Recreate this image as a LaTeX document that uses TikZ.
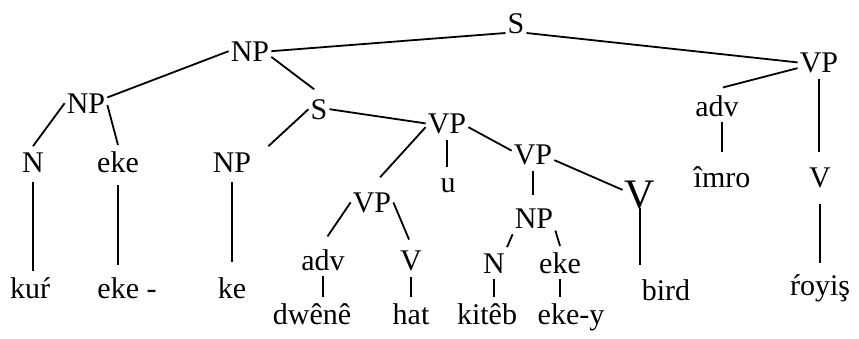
\documentclass[tikz,border=0pt]{standalone}
\usepackage{fontspec}
\setmainfont{Liberation Serif}
\tikzset{
  lbl/.style={anchor=base,inner xsep=2pt,inner ysep=6pt},
  branch/.style={line width=1.8pt}
}

\begin{document}
\begin{tikzpicture}[x=1pt,y=-1pt,font=\fontsize{30}{36}\selectfont]
  \useasboundingbox (0,0) rectangle (859,338);
  % categories
  \node[lbl] (s0) at (516,33) {S};
  \node[lbl] (np0) at (250,61) {NP};
  \node[lbl] (vp0) at (819,72) {VP};
  \node[lbl] (np1) at (86,113) {NP};
  \node[lbl] (s1) at (319,119) {S};
  \node[lbl] (adv0) at (717,116) {adv};
  \node[lbl] (vp1) at (447,133) {VP};
  \node[lbl] (vp2) at (533,164) {VP};
  \node[lbl] (n0) at (33,172) {N};
  \node[lbl] (eke0) at (118,172) {eke};
  \node[lbl] (np2) at (232,172) {NP};
  \node[lbl] (u) at (448,192) {u};
  \node[lbl] (imro) at (722,187) {îmro};
  \node[lbl] (v0) at (820,187) {V};
  \node[lbl] (vp3) at (372,212) {VP};
  \node[lbl,font=\fontsize{42}{50}\selectfont] (vbig) at (640,208) {V};
  \node[lbl] (np3) at (534,228) {NP};
  \node[lbl] (n1) at (494,273) {N};
  \node[lbl] (eke1) at (560,273) {eke};
  \node[lbl] (adv1) at (323,270) {adv};
  \node[lbl] (v1) at (411,270) {V};
  % words
  \node[lbl] (kur) at (30,298) {kuŕ};
  \node[lbl] (ekeh) at (127,298) {eke -};
  \node[lbl] (ke) at (232,298) {ke};
  \node[lbl] (bird) at (666,300) {bird};
  \node[lbl] (royis) at (820,295) {ŕoyiş};
  \node[lbl] (dwene) at (312,324) {dwênê};
  \node[lbl] (hat) at (411,324) {hat};
  \node[lbl] (kiteb) at (487,324) {kitêb};
  \node[lbl] (ekey) at (571,324) {eke-y};
  % branches
  \draw[branch] (np0.east) -- (s0.base west);
  \draw[branch] (s0.base east) -- (vp0.west);
  \draw[branch] (np0.west) -- (np1.15);
  \draw[branch,shorten >=6pt] (np0.-15) -- (s1.north);
  \draw[branch] (np1.west) -- (n0.north);
  \draw[branch] (np1.-5) -- (eke0.north);
  \draw[branch] (s1.west) -- ([xshift=15pt]np2.north east);
  \draw[branch] (s1.east) -- (vp1.west);
  \draw[branch,shorten >=12pt] (vp1.190) -- (vp3.north);
  \draw[branch,shorten >=5pt] (vp1.south) -- (vp1.south |- u.north);
  \draw[branch] (vp1.-10) -- (vp2.170);
  \draw[branch,shorten >=7pt] (vp2.south) -- (vp2.south |- np3.north);
  \draw[branch] (vp2.-15) -- (vbig.165);
  \draw[branch,shorten >=8pt] (vbig.base) -- (vbig.base |- bird.north);
  \draw[branch] (np3.south west) -- (n1.north east);
  \draw[branch] (np3.-30) -- (eke1.north);
  \draw[branch] (n1.south) -- (n1.south |- kiteb.north);
  \draw[branch] (eke1.south) -- (eke1.south |- ekey.north);
  \draw[branch,shorten >=8pt] (vp3.west) -- (adv1.north);
  \draw[branch,shorten >=5pt] (vp3.east) -- (v1.north);
  \draw[branch] (adv1.south) -- (adv1.south |- dwene.north);
  \draw[branch] (v1.south) -- (v1.south |- hat.north);
  \draw[branch,shorten >=6pt] (vp0.195) -- (adv0.north);
  \draw[branch,shorten >=9pt] (vp0.south) -- (vp0.south |- v0.north);
  \draw[branch,shorten >=8pt] (imro.north |- adv0.south) -- (imro.north);
  \draw[branch,shorten <=10pt,shorten >=5pt] (v0.south) -- (v0.south |- royis.north);
  \draw[branch,shorten <=4pt] (n0.south) -- (n0.south |- kur.north);
  \draw[branch,shorten <=7pt,shorten >=6pt] (eke0.south) -- (eke0.south |- ekeh.north);
  \draw[branch,shorten <=4pt,shorten >=9pt] (np2.south) -- (np2.south |- ke.north);
\end{tikzpicture}
\end{document}
